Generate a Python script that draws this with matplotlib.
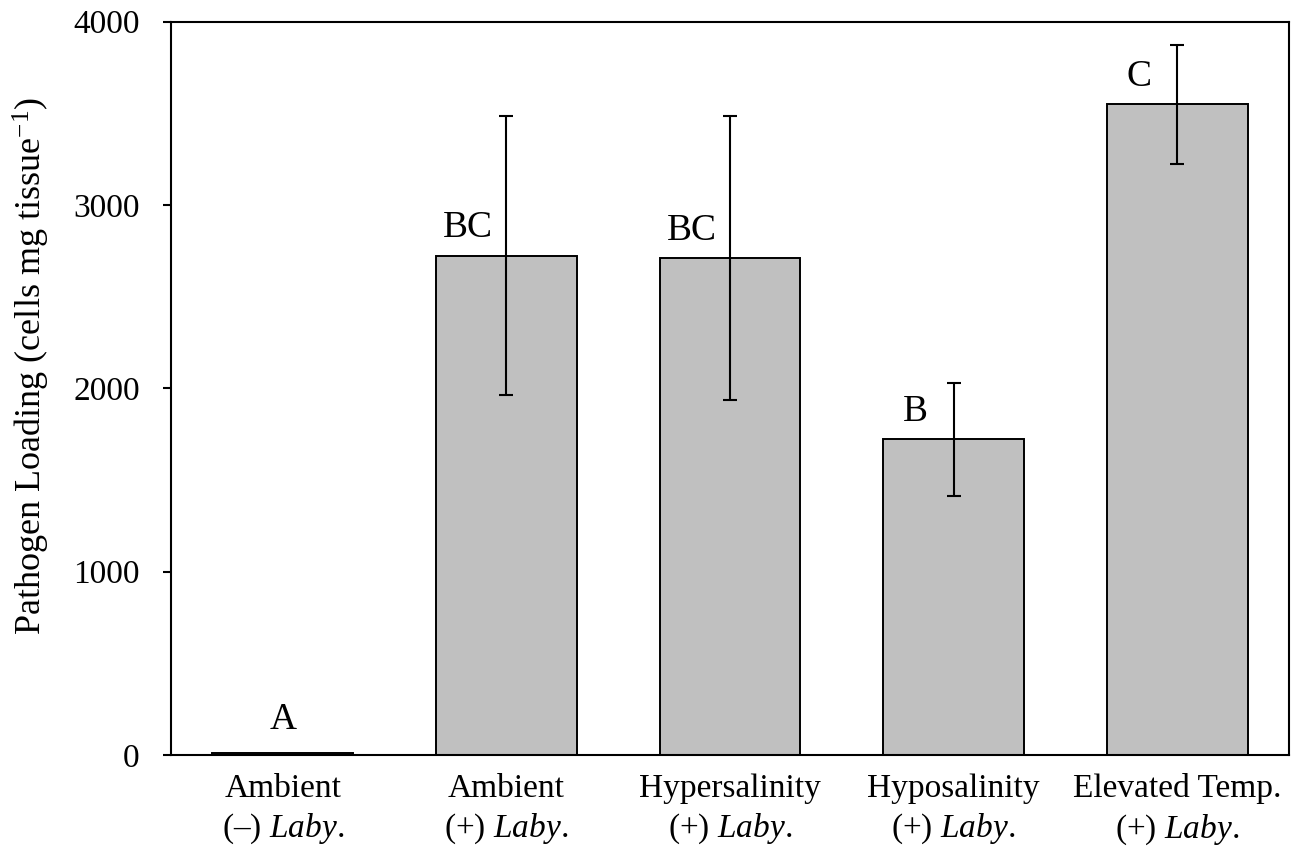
import matplotlib.pyplot as plt

plt.rcParams['font.family'] = ['Liberation Serif', 'DejaVu Serif']
plt.rcParams['mathtext.fontset'] = 'custom'
plt.rcParams['mathtext.rm'] = 'Liberation Serif'
plt.rcParams['mathtext.it'] = 'Liberation Serif:italic'

# datos
treatments = ["Ambient", "Ambient", "Hypersalinity", "Hyposalinity", "Elevated Temp."]
laby_sign = ["\u2013", "+", "+", "+", "+"]
loading = [10, 2722, 2710, 1722, 3550]
loading_err = [0, 761, 773, 307, 325]
letters = ["A", "BC", "BC", "B", "C"]

tick_labels = [f"{t}\n({s}) $\\mathit{{Laby.}}$" for t, s in zip(treatments, laby_sign)]
x = list(range(len(treatments)))

fig = plt.figure(figsize=(12.98, 8.47), dpi=100)
ax = fig.add_axes([0.1317, 0.1086, 0.8614, 0.8658])

ax.bar(x, loading, width=0.63, color="#C0C0C0", edgecolor="black", linewidth=1.4, zorder=2)
ax.errorbar(x[1:], loading[1:], yerr=loading_err[1:], fmt="none", ecolor="black",
            elinewidth=1.5, capsize=5, capthick=1.5, zorder=3)

# letras de significancia (a la izquierda de la barra de error)
for i, (v, lab) in enumerate(zip(loading, letters)):
    if loading_err[i] == 0:
        ax.text(i, v + 180, lab, ha="center", va="center", fontsize=27)
    else:
        ax.text(i - 0.17, v + 152, lab, ha="center", va="center", fontsize=27)

ax.set_xlim(-0.5, 4.5)
ax.set_ylim(0, 4000)
ax.set_yticks([0, 1000, 2000, 3000, 4000])
ax.set_xticks(x)
ax.set_xticklabels(tick_labels, fontsize=24, linespacing=1.32)
ax.tick_params(axis="x", length=0, pad=13)
ax.tick_params(axis="y", direction="out", length=5.5, width=1.5, pad=17, labelsize=24)
for s in ax.spines.values():
    s.set_linewidth(1.5)

ax.set_ylabel("Pathogen Loading (cells mg tissue$^{\\mathregular{-1}}$)", fontsize=26)
ax.yaxis.set_label_coords(-0.106, 0.53)

plt.savefig("out.png", dpi=100)
